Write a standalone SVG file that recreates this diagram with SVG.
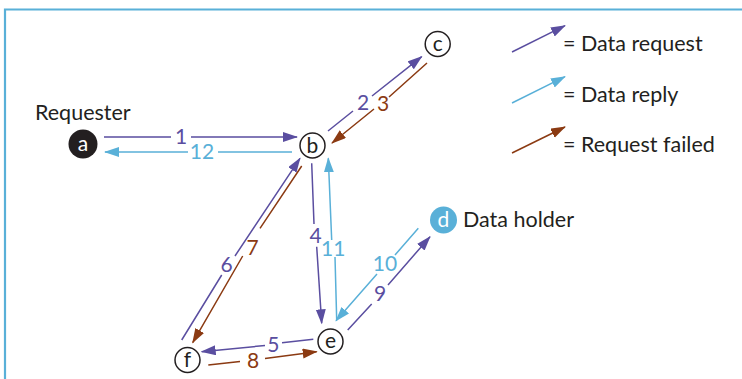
<svg xmlns="http://www.w3.org/2000/svg" width="742" height="379" viewBox="0 0 742 379">
<defs>
<style>
.txt{font-family:Lato,"Liberation Sans",sans-serif;font-size:21.5px;fill:#231f20}
.lbl{font-family:Lato,"Liberation Sans",sans-serif;font-size:21px;text-anchor:middle}
.nt{font-family:Lato,"Liberation Sans",sans-serif;font-size:21px;text-anchor:middle}
.req{stroke:#5a4ea0;fill:none;stroke-width:1.5;marker-end:url(#mReq)}
.rep{stroke:#59b0d8;fill:none;stroke-width:1.5;marker-end:url(#mRep)}
.fail{stroke:#8b3a12;fill:none;stroke-width:1.5;marker-end:url(#mFail)}
.lreq{fill:#5a4ea0}.lrep{fill:#59b0d8}.lfail{fill:#8b3a12}
.node{fill:#fff;stroke:#231f20;stroke-width:1.5}
</style>
<marker id="mReq" markerUnits="userSpaceOnUse" markerWidth="16" markerHeight="12" refX="14" refY="5" orient="auto"><path d="M0,0 L15,5 L0,10 z" fill="#5a4ea0"/></marker>
<marker id="mRep" markerUnits="userSpaceOnUse" markerWidth="16" markerHeight="12" refX="14" refY="5" orient="auto"><path d="M0,0 L15,5 L0,10 z" fill="#59b0d8"/></marker>
<marker id="mFail" markerUnits="userSpaceOnUse" markerWidth="16" markerHeight="12" refX="14" refY="5" orient="auto"><path d="M0,0 L15,5 L0,10 z" fill="#8b3a12"/></marker>
</defs>
<rect x="0" y="0" width="742" height="379" fill="#fff"/>
<path d="M5,379 L5,9.5 L742,9.5" fill="none" stroke="#59b0d8" stroke-width="2.2"/>

<g id="legend">
<path class="req" d="M512,52 L565,25.7"/>
<path class="rep" d="M512,103 L565,76.7"/>
<path class="fail" d="M512,153 L565,127"/>
<text class="txt" x="563" y="51">= Data request</text>
<text class="txt" x="563" y="102">= Data reply</text>
<text class="txt" x="563" y="152">= Request failed</text>
</g>

<g id="connectors">
<path class="req" d="M104,137 L171,137 M191,137 L297,137"/>
<text class="lbl lreq" x="181" y="144">1</text>
<path class="rep" d="M292,152 L218,152 M188,152 L105,152"/>
<text class="lbl lrep" x="202" y="159">12</text>
<path class="req" d="M328,131 L353,111 M372,96 L421.7,56.7"/>
<text class="lbl lreq" x="363" y="109.5">2</text>
<path class="fail" d="M427,63 L389,97 M374,109 L332,143"/>
<text class="lbl lfail" x="383" y="110.5">3</text>
<path class="req" d="M311.7,163.3 L314,224 M316.7,246.7 L321.7,323.3"/>
<text class="lbl lreq" x="315.7" y="243">4</text>
<path class="rep" d="M336.7,320 L335,257 M331.7,240 L328.3,158.3"/>
<text class="lbl lrep" x="333.3" y="256">11</text>
<path class="req" d="M313.3,339.3 L282,342.7 M265,345.5 L201.7,351.7"/>
<text class="lbl lreq" x="273.3" y="352">5</text>
<path class="req" d="M181.7,340 L221.7,275 M235,256 L300,158.3"/>
<text class="lbl lreq" x="226.7" y="272">6</text>
<path class="fail" d="M301.7,166 L260,228.3 M242.7,256 L192.7,342.7"/>
<text class="lbl lfail" x="252.7" y="255">7</text>
<path class="fail" d="M208.3,365 L240,361.5 M265,358.5 L316.7,351.7"/>
<text class="lbl lfail" x="253" y="367.5">8</text>
<path class="req" d="M347.7,330 L371.7,304 M388,285 L430,236.7"/>
<text class="lbl lreq" x="380" y="300.5">9</text>
<path class="rep" d="M418.3,228.3 L395,255 M377,274 L336,320.7"/>
<text class="lbl lrep" x="385" y="270.5">10</text>
</g>

<g id="node-a">
<circle cx="83" cy="144" r="14.5" fill="#231f20"/>
<text class="nt" x="83" y="150.5" fill="#fff">a</text>
<text class="txt" x="35" y="120">Requester</text>
</g>
<g id="node-b">
<circle class="node" cx="312.5" cy="145.5" r="12.5"/>
<text class="nt" x="312.5" y="152.5" fill="#231f20">b</text>
</g>
<g id="node-c">
<circle class="node" cx="437.7" cy="44" r="12.5"/>
<text class="nt" x="437.7" y="50.5" fill="#231f20">c</text>
</g>
<g id="node-d">
<circle cx="443.5" cy="220" r="13.5" fill="#59b0d8"/>
<text class="nt" x="443.5" y="227" fill="#fff">d</text>
<text class="txt" x="463" y="226.5">Data holder</text>
</g>
<g id="node-e">
<circle class="node" cx="330.5" cy="341.5" r="12.5"/>
<text class="nt" x="330.5" y="348" fill="#231f20">e</text>
</g>
<g id="node-f">
<circle class="node" cx="187.5" cy="360" r="12.5"/>
<text class="nt" x="187.5" y="367" fill="#231f20">f</text>
</g>
</svg>
